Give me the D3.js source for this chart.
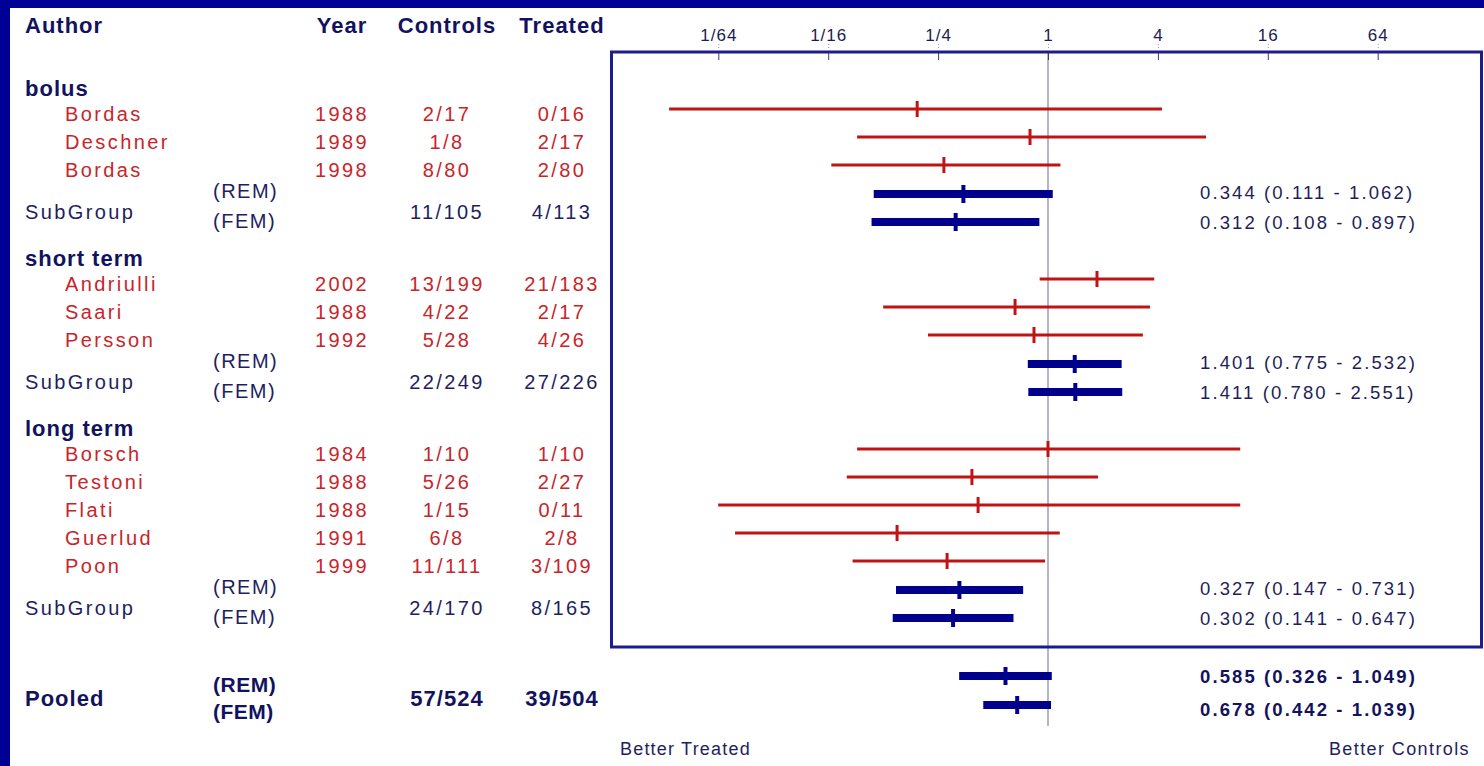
<!DOCTYPE html>
<html>
<head>
<meta charset="utf-8">
<script src="https://cdn.jsdelivr.net/npm/d3@7"></script>
<style>
  html, body { margin: 0; padding: 0; background: #fff; }
  svg { display: block; }
  text { font-family: "Liberation Sans", Arial, sans-serif; }
</style>
</head>
<body>
<script>
// ---- data ----
const groups = ["bolus", "short term", "long term"];
const studyGroup = [0, 0, 0, 1, 1, 1, 2, 2, 2, 2, 2];
const authors = ["Bordas", "Deschner", "Bordas", "Andriulli", "Saari", "Persson",
                 "Borsch", "Testoni", "Flati", "Guerlud", "Poon"];
const years = [1988, 1989, 1998, 2002, 1988, 1992, 1984, 1988, 1988, 1991, 1999];
const controls = ["2/17", "1/8", "8/80", "13/199", "4/22", "5/28", "1/10", "5/26", "1/15", "6/8", "11/111"];
const treated = ["0/16", "2/17", "2/80", "21/183", "2/17", "4/26", "1/10", "2/27", "0/11", "2/8", "3/109"];
const studyOR = [0.192, 0.797, 0.269, 1.855, 0.660, 0.838, 1.000, 0.383, 0.414, 0.149, 0.280];
const studyLo = [0.0084, 0.090, 0.065, 0.900, 0.125, 0.220, 0.090, 0.079, 0.0156, 0.0193, 0.085];
const studyHi = [4.21, 7.34, 1.17, 3.82, 3.62, 3.31, 11.3, 1.88, 11.3, 1.16, 0.963];

const subControls = ["11/105", "22/249", "24/170"];
const subTreated = ["4/113", "27/226", "8/165"];
const remOR = [0.344, 1.401, 0.327];
const remLo = [0.111, 0.775, 0.147];
const remHi = [1.062, 2.532, 0.731];
const femOR = [0.312, 1.411, 0.302];
const femLo = [0.108, 0.780, 0.141];
const femHi = [0.897, 2.551, 0.647];

const pooledControls = "57/524";
const pooledTreated = "39/504";
const pooledOR = [0.585, 0.678];   // REM, FEM
const pooledLo = [0.326, 0.442];
const pooledHi = [1.049, 1.039];

const tickValues = [1 / 64, 1 / 16, 1 / 4, 1, 4, 16, 64];
const tickLabels = ["1/64", "1/16", "1/4", "1", "4", "16", "64"];

// ---- page ----
const W = 1484, H = 766;
const NAVY = "#12125e", RED = "#c8242a", LINE_RED = "#c01414", BAR = "#00008c";

const svg = d3.select("body").append("svg").attr("width", W).attr("height", H);
svg.append("rect").attr("width", W).attr("height", H).attr("fill", "#fff");

// dark blue slide frame
svg.append("rect").attr("x", 0).attr("y", 0).attr("width", W).attr("height", 8).attr("fill", "#000096");
svg.append("rect").attr("x", 0).attr("y", 0).attr("width", 10).attr("height", H).attr("fill", "#000096");

const x = d3.scaleLog().base(4).domain([1 / 64, 64]).range([718.3, 1377.7]);
const fmt = d3.format(".3f");
const ci = (p, l, h) => `${fmt(p)} (${fmt(l)} - ${fmt(h)})`;

// ---- vertical layout of rows ----
const STEP = 28;
const rows = [];          // {type, index, y}
let y = 88;
groups.forEach((g, gi) => {
  if (gi > 0) y += 36;
  rows.push({ type: "group", index: gi, y: y });
  y += 21;
  const members = d3.range(authors.length).filter(i => studyGroup[i] === gi);
  members.forEach((i, k) => {
    if (k > 0) y += STEP;
    rows.push({ type: "study", index: i, y: y });
  });
  y += 29;
  const yRem = y;
  y += 28;
  rows.push({ type: "sub", index: gi, yRem: yRem, yFem: y });
});
const yPoolRem = y + 58, yPoolFem = y + 87;

// ---- plot box and axis ----
const boxL = 611.5, boxR = 1481.5, boxT = 52, boxB = 647;
svg.append("line").attr("x1", x(1)).attr("x2", x(1)).attr("y1", boxT).attr("y2", 726)
  .attr("stroke", "#b6b6c0").attr("stroke-width", 2);

svg.append("rect").attr("x", boxL).attr("y", boxT).attr("width", boxR - boxL).attr("height", boxB - boxT)
  .attr("fill", "none").attr("stroke", "#1c1c8a").attr("stroke-width", 3);

const axis = d3.axisTop(x).tickValues(tickValues).tickFormat((d, i) => tickLabels[i])
  .tickSizeInner(0).tickSizeOuter(0).tickPadding(11);
const ax = svg.append("g").attr("transform", `translate(0,${boxT})`).call(axis);
ax.select(".domain").remove();
ax.selectAll(".tick text").attr("fill", "#1c1c50").attr("font-size", 17).attr("letter-spacing", 1)
  .attr("font-family", "Liberation Sans, Arial, sans-serif");
ax.selectAll(".tick").append("line").attr("y1", 1).attr("y2", 8).attr("stroke", "#3a3a7a").attr("stroke-width", 1);
ax.selectAll(".tick").append("line").attr("y1", -8).attr("y2", -3).attr("stroke", "#9a9aaa")
  .attr("stroke-width", 1).attr("stroke-dasharray", "1,2");

// ---- header ----
function txt(xp, yp, s, opt) {
  const o = Object.assign({ size: 20, fill: NAVY, weight: "normal", anchor: "start", ls: 2.4 }, opt || {});
  return svg.append("text").attr("x", xp).attr("y", yp).attr("dy", "0.36em")
    .attr("font-size", o.size).attr("font-weight", o.weight).attr("fill", o.fill)
    .attr("text-anchor", o.anchor).attr("letter-spacing", o.ls).text(s);
}
const COL_NAME = 25, COL_AUTH = 65, COL_MODEL = 213, COL_YEAR = 342, COL_CTRL = 447, COL_TRT = 562;
const headBold = { size: 22, weight: "bold", ls: 1 };
txt(COL_NAME, 25, "Author", headBold);
txt(COL_YEAR, 25, "Year", Object.assign({ anchor: "middle" }, headBold));
txt(COL_CTRL, 25, "Controls", Object.assign({ anchor: "middle" }, headBold));
txt(COL_TRT, 25, "Treated", Object.assign({ anchor: "middle" }, headBold));

// ---- interval marks ----
function interval(yp, p, l, h, kind) {
  const g = svg.append("g");
  if (kind === "study") {
    g.append("line").attr("x1", x(l)).attr("x2", x(h)).attr("y1", yp).attr("y2", yp)
      .attr("stroke", LINE_RED).attr("stroke-width", 3);
    g.append("line").attr("x1", x(p)).attr("x2", x(p)).attr("y1", yp - 8).attr("y2", yp + 8)
      .attr("stroke", LINE_RED).attr("stroke-width", 3);
  } else {
    g.append("line").attr("x1", x(l)).attr("x2", x(h)).attr("y1", yp).attr("y2", yp)
      .attr("stroke", BAR).attr("stroke-width", 8);
    g.append("line").attr("x1", x(p)).attr("x2", x(p)).attr("y1", yp - 9).attr("y2", yp + 9)
      .attr("stroke", BAR).attr("stroke-width", 4);
  }
}

rows.forEach(r => {
  if (r.type === "group") {
    txt(COL_NAME, r.y, groups[r.index], headBold);
  } else if (r.type === "study") {
    const i = r.index, ty = r.y + 5;
    const red = { fill: RED };
    txt(COL_AUTH, ty, authors[i], red);
    txt(COL_YEAR, ty, years[i], Object.assign({ anchor: "middle" }, red));
    txt(COL_CTRL, ty, controls[i], Object.assign({ anchor: "middle" }, red));
    txt(COL_TRT, ty, treated[i], Object.assign({ anchor: "middle" }, red));
    interval(r.y, studyOR[i], studyLo[i], studyHi[i], "study");
  } else {
    const gi = r.index, mid = (r.yRem + r.yFem) / 2 + 4;
    txt(COL_NAME, mid, "SubGroup", { fill: "#1e1e60" });
    txt(COL_MODEL, r.yRem - 3, "(REM)", { fill: "#1e1e60", ls: 1.5 });
    txt(COL_MODEL, r.yFem - 1, "(FEM)", { fill: "#1e1e60", ls: 1.5 });
    txt(COL_CTRL, mid, subControls[gi], { fill: "#1e1e60", anchor: "middle" });
    txt(COL_TRT, mid, subTreated[gi], { fill: "#1e1e60", anchor: "middle" });
    interval(r.yRem, remOR[gi], remLo[gi], remHi[gi], "sub");
    interval(r.yFem, femOR[gi], femLo[gi], femHi[gi], "sub");
    txt(1200, r.yRem - 2, ci(remOR[gi], remLo[gi], remHi[gi]), { size: 18.5, ls: 2.1, fill: "#1e1e5a" });
    txt(1200, r.yFem, ci(femOR[gi], femLo[gi], femHi[gi]), { size: 18.5, ls: 2.1, fill: "#1e1e5a" });
  }
});

// ---- pooled estimates ----
const poolMid = (yPoolRem + yPoolFem) / 2 + 8;
txt(COL_NAME, poolMid, "Pooled", headBold);
txt(COL_MODEL, yPoolRem + 8, "(REM)", { weight: "bold", ls: 0.5, size: 21 });
txt(COL_MODEL, yPoolFem + 6, "(FEM)", { weight: "bold", ls: 0.5, size: 21 });
txt(COL_CTRL, poolMid, pooledControls, Object.assign({ anchor: "middle" }, headBold));
txt(COL_TRT, poolMid, pooledTreated, Object.assign({ anchor: "middle" }, headBold));
interval(yPoolRem, pooledOR[0], pooledLo[0], pooledHi[0], "sub");
interval(yPoolFem, pooledOR[1], pooledLo[1], pooledHi[1], "sub");
txt(1200, yPoolRem, ci(pooledOR[0], pooledLo[0], pooledHi[0]), { size: 18.5, ls: 2.1, weight: "bold" });
txt(1200, yPoolFem + 4, ci(pooledOR[1], pooledLo[1], pooledHi[1]), { size: 18.5, ls: 2.1, weight: "bold" });

// ---- direction captions ----
txt(620, 749, "Better Treated", { size: 18, ls: 1.2, fill: "#1e1e60" });
txt(1470, 749, "Better Controls", { size: 18, ls: 1.4, fill: "#1e1e60", anchor: "end" });
</script>
</body>
</html>
